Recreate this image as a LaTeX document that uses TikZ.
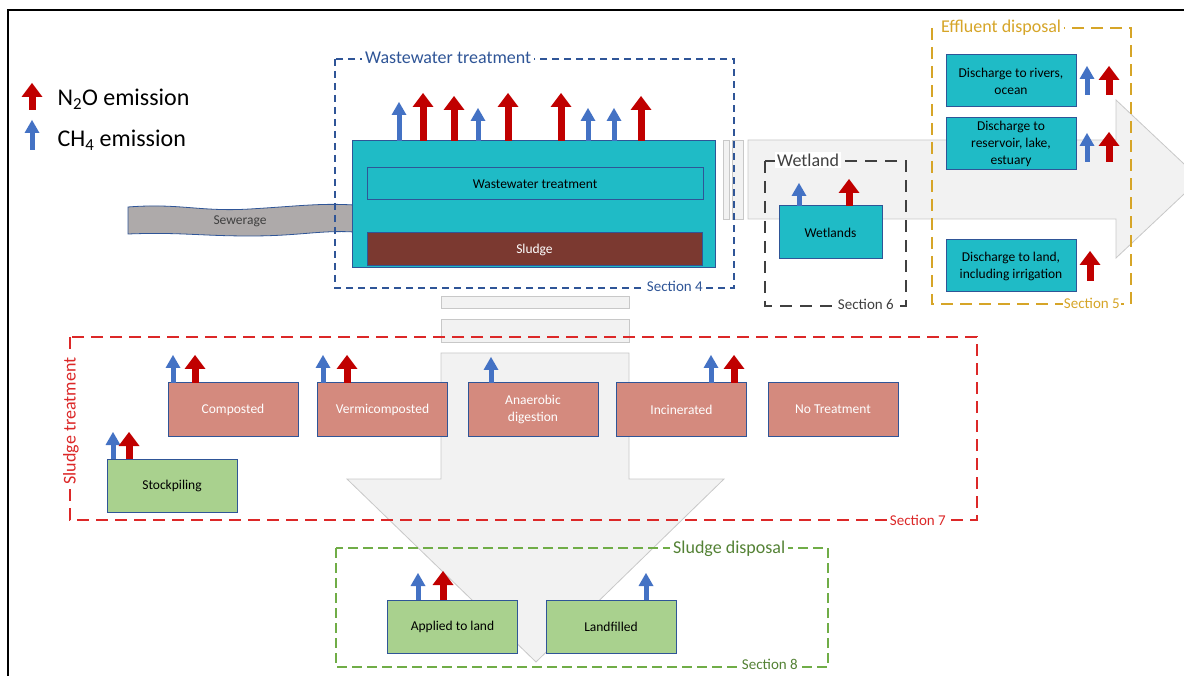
\documentclass[tikz,border=0pt]{standalone}
\usepackage{fontspec}
\setmainfont{Carlito}
\usetikzlibrary{arrows.meta,positioning,calc}

\definecolor{wwteal}{RGB}{31,187,198}
\definecolor{edgeblue}{RGB}{47,85,151}
\definecolor{sludgebrown}{RGB}{123,57,48}
\definecolor{salmon}{RGB}{212,138,126}
\definecolor{leafgreen}{RGB}{169,209,142}
\definecolor{noxred}{RGB}{192,0,0}
\definecolor{methblue}{RGB}{68,114,196}
\definecolor{sewergray}{RGB}{174,170,170}
\definecolor{pipefill}{RGB}{242,242,242}
\definecolor{pipeedge}{RGB}{200,200,200}
\definecolor{framered}{RGB}{220,40,40}
\definecolor{framegreen}{RGB}{112,173,71}
\definecolor{textgreen}{RGB}{84,130,53}
\definecolor{framegold}{RGB}{214,165,40}
\definecolor{framegray}{RGB}{64,64,64}

\tikzset{
  box/.style={draw=edgeblue, line width=1pt, minimum width=130pt, minimum height=53pt,
    align=center, inner sep=2pt, font=\fontsize{13.5}{17}\selectfont},
  tealbox/.style={box, fill=wwteal},
  greenbox/.style={box, fill=leafgreen},
  pinkbox/.style={box, fill=salmon, text=white},
  nox/.style={noxred, line width=7pt, -{Triangle[width=21pt,length=14pt,line width=0pt]}},
  meth/.style={methblue, line width=5pt, -{Triangle[width=15pt,length=13pt,line width=0pt]}},
  pipe/.style={draw=pipeedge, fill=pipefill, line width=0.8pt},
  sectframe/.style={line width=1.3pt},
  framelabel/.style={fill=white, inner sep=3pt, font=\fontsize{18}{20}\selectfont},
  sectlabel/.style={fill=white, inner sep=1pt, font=\fontsize{15}{17}\selectfont}
}

\begin{document}
\begin{tikzpicture}[x=1pt, y=-1pt]
  \useasboundingbox (0,0) rectangle (1184,676);
  \draw[line width=2pt] (8,676) -- (8,10) -- (1184,10);

  % grey flow arrows
  \draw[pipe] (723,140) rectangle (729,219);
  \draw[pipe] (732,140) rectangle (743,219);
  \draw[pipe] (748,140) -- (1116,140) -- (1116,100) -- (1200,179)
    -- (1116,258) -- (1116,219) -- (748,219) -- cycle;
  \draw[pipe] (441,296) rectangle (629,308);
  \draw[pipe] (441,319) rectangle (629,342);
  \draw[pipe] (441,353) -- (629,353) -- (629,479) -- (724,479)
    -- (536,662) -- (347,479) -- (441,479) -- cycle;

  % legend
  \draw[nox] (32,110) -- (32,83);
  \draw[meth] (32,150) -- (32,120);
  \node[anchor=west, font=\fontsize{24}{26}\selectfont] (noxkey) at (54,99) {N\textsubscript{2}O emission};
  \node[anchor=west, font=\fontsize{24}{26}\selectfont] (methkey) at (54,140) {CH\textsubscript{4} emission};

  % sewerage
  \draw[draw=edgeblue, fill=sewergray, line width=0.8pt]
    (128,207) .. controls (180,203) and (200,212) .. (250,209)
    .. controls (300,206) and (320,203) .. (354,205) -- (354,232)
    .. controls (320,230) and (300,236) .. (250,236)
    .. controls (200,236) and (180,232) .. (128,234) -- cycle;
  \node[text=framegray, font=\fontsize{13.5}{17}\selectfont] (sewer) at (240,221) {Sewerage};

  % wastewater treatment
  \draw[sectframe, edgeblue, dash pattern=on 7pt off 5pt] (335,59) rectangle (734,288);
  \node[framelabel, text=edgeblue, anchor=west] (wwtlabel) at (362,58) {Wastewater treatment};
  \node[sectlabel, text=edgeblue, anchor=east] (sec4) at (704,286) {Section 4};
  \node[draw=edgeblue, fill=wwteal, line width=1pt, minimum width=363pt, minimum height=127pt] (plant) at (533.5,204.5) {};
  \node[tealbox, minimum width=336pt, minimum height=32pt] (wwt) at (535,184) {Wastewater treatment};
  \node[box, fill=sludgebrown, text=white, minimum width=335pt, minimum height=33pt] (sludge) at (534.5,249.5) {Sludge};
  \draw[meth] (399,141) -- (399,102);
  \draw[nox] (423,141) -- (423,93);
  \draw[nox] (454,141) -- (454,96);
  \draw[meth] (478,141) -- (478,108);
  \draw[nox] (508,141) -- (508,93);
  \draw[nox] (561,141) -- (561,93);
  \draw[meth] (588,141) -- (588,108);
  \draw[meth] (614,141) -- (614,108);
  \draw[nox] (641,141) -- (641,96);

  % wetland
  \draw[sectframe, framegray, dash pattern=on 12pt off 8pt] (765,161) rectangle (906,306);
  \node[framelabel, text=framegray, anchor=west, inner sep=2pt] (wetlabel) at (775,160) {Wetland};
  \node[sectlabel, text=framegray, anchor=east] (sec6) at (895,304) {Section 6};
  \node[tealbox, minimum width=103pt] (wetlands) at (830.5,232.5) {Wetlands};
  \draw[meth] (799,206) -- (799,183);
  \draw[nox] (849,206) -- (849,179);

  % effluent disposal
  \draw[sectframe, framegold, dash pattern=on 12pt off 7pt] (932,28) rectangle (1131,304);
  \node[framelabel, text=framegold, anchor=west] (efflabel) at (938,28) {Effluent disposal};
  \node[sectlabel, text=framegold, anchor=east] (sec5) at (1121,303) {Section 5};
  \node[tealbox, minimum height=52pt] (rivers) at (1011,81) {Discharge to rivers,\\ ocean};
  \node[tealbox, minimum height=52pt] (reservoir) at (1011,144) {Discharge to\\ reservoir, lake,\\ estuary};
  \node[tealbox, minimum height=52pt] (land) at (1011,266) {Discharge to land,\\ including irrigation};
  \draw[meth] (1087,95) -- (1087,66);
  \draw[nox] (1109,95) -- (1109,66);
  \draw[meth] (1087,162) -- (1087,133);
  \draw[nox] (1109,162) -- (1109,132);
  \draw[nox] (1090,281) -- (1090,251);

  % sludge treatment
  \draw[sectframe, framered, dash pattern=on 12pt off 7pt] (70,337) rectangle (977,520);
  \node[framelabel, text=framered, rotate=90] (sludgelabel) at (71,421) {Sludge treatment};
  \node[sectlabel, text=framered, anchor=east] (sec7) at (947,520) {Section 7};
  \node[pinkbox] (composted) at (233,409.5) {Composted};
  \node[pinkbox] (vermi) at (382.5,409.5) {Vermicomposted};
  \node[pinkbox] (anaerobic) at (533,409.5) {Anaerobic\\ digestion};
  \node[pinkbox] (incinerated) at (681.5,409.5) {Incinerated};
  \node[pinkbox] (notreat) at (833,409.5) {No Treatment};
  \node[greenbox] (stockpile) at (172,485.5) {Stockpiling};
  \draw[meth] (173,383) -- (173,355);
  \draw[nox] (195,383) -- (195,355);
  \draw[meth] (323,383) -- (323,355);
  \draw[nox] (347,383) -- (347,355);
  \draw[meth] (491,383) -- (491,357);
  \draw[meth] (711,383) -- (711,355);
  \draw[nox] (734,383) -- (734,355);
  \draw[meth] (113,459) -- (113,432);
  \draw[nox] (129,459) -- (129,432);

  % sludge disposal
  \draw[sectframe, framegreen, dash pattern=on 10pt off 5pt] (336,548) rectangle (828,667);
  \node[framelabel, text=textgreen, anchor=west] (displabel) at (670,549) {Sludge disposal};
  \node[sectlabel, text=textgreen, anchor=east] (sec8) at (799,664) {Section 8};
  \node[greenbox] (applied) at (452.5,626.5) {Applied to land};
  \node[greenbox] (landfill) at (611,626.5) {Landfilled};
  \draw[meth] (418,600) -- (418,573);
  \draw[nox] (443,600) -- (443,571);
  \draw[meth] (646,600) -- (646,573);
\end{tikzpicture}
\end{document}
